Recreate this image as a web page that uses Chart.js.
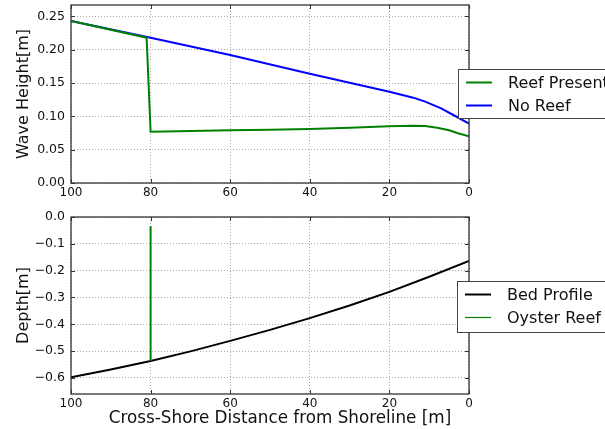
<!DOCTYPE html>
<html>
<head>
<meta charset="utf-8">
<script src="https://cdn.jsdelivr.net/npm/chart.js@4"></script>
<style>
  body { margin: 0; background: #fff; }
  .box { position: absolute; left: 0; width: 605px; }
  #top { top: 0; height: 205px; }
  #bot { top: 205px; height: 224px; }
</style>
</head>
<body>
<div class="box" id="top"><canvas id="chart-wave"></canvas></div>
<div class="box" id="bot"><canvas id="chart-depth"></canvas></div>
<script>
// distance from shoreline [m] and values
const reefX = [100, 81, 80, 70, 60, 50, 40, 30, 20, 14, 11, 8, 5, 3, 0];
const reefH = [0.243, 0.218, 0.077, 0.078, 0.079, 0.080, 0.081, 0.083, 0.085, 0.086, 0.0855, 0.083, 0.079, 0.075, 0.070];
const noReefX = [100, 80, 60, 40, 20, 14, 11, 7, 3, 0];
const noReefH = [0.243, 0.218, 0.192, 0.164, 0.137, 0.128, 0.122, 0.112, 0.099, 0.089];
const bedX = [100, 90, 80, 70, 60, 50, 40, 30, 20, 10, 0];
const bedZ = [-0.598, -0.569, -0.537, -0.501, -0.462, -0.421, -0.377, -0.330, -0.279, -0.223, -0.164];
const oysterX = [80, 80];
const oysterZ = [-0.537, -0.034];

const font = "'DejaVu Sans', sans-serif";
const pts = (xs, ys) => xs.map((x, i) => ({ x: x, y: ys[i] }));

function frame(legend, xTitle) {
  return {
    id: "frame",
    afterDraw(chart) {
      const c = chart.ctx;
      const a = chart.chartArea;
      c.save();
      // inward tick marks on all four sides
      c.strokeStyle = "#333";
      c.lineWidth = 1;
      c.beginPath();
      chart.scales.x.ticks.forEach((t) => {
        const px = Math.round(chart.scales.x.getPixelForValue(t.value)) + 0.5;
        c.moveTo(px, a.bottom); c.lineTo(px, a.bottom - 4);
        c.moveTo(px, a.top); c.lineTo(px, a.top + 4);
      });
      chart.scales.y.ticks.forEach((t) => {
        const py = Math.round(chart.scales.y.getPixelForValue(t.value)) + 0.5;
        c.moveTo(a.left, py); c.lineTo(a.left + 4, py);
        c.moveTo(a.right, py); c.lineTo(a.right - 4, py);
      });
      c.stroke();
      c.lineWidth = 1.3;
      c.strokeRect(a.left, a.top, a.right - a.left, a.bottom - a.top);
      if (xTitle) {
        c.fillStyle = "#111";
        c.font = "16.8px " + font;
        c.textAlign = "center";
        c.textBaseline = "middle";
        c.fillText(xTitle.text, xTitle.x, xTitle.y);
        c.textAlign = "left";
      }
      // legend box sitting over the right edge
      c.fillStyle = "#fff";
      c.fillRect(legend.x, legend.y, 200, legend.h);
      c.strokeStyle = "#444";
      c.lineWidth = 1;
      c.strokeRect(legend.x + 0.5, legend.y + 0.5, 200, legend.h);
      c.font = "16px " + font;
      c.textBaseline = "middle";
      legend.items.forEach((it, i) => {
        const y = legend.y + 13.5 + i * 23;
        c.strokeStyle = it.color;
        c.lineWidth = it.width;
        c.beginPath();
        c.moveTo(legend.x + 8, y);
        c.lineTo(legend.x + 34, y);
        c.stroke();
        c.fillStyle = "#111";
        c.fillText(it.label, legend.x + 50, y + 1);
      });
      c.restore();
    },
  };
}

function makeOptions(o) {
  return {
    responsive: true,
    maintainAspectRatio: false,
    animation: false,
    layout: { padding: { left: 0, right: 136, top: o.top, bottom: 0 } },
    plugins: { legend: { display: false }, tooltip: { enabled: false } },
    elements: { point: { radius: 0 }, line: { tension: 0, borderWidth: 2 } },
    scales: {
      x: {
        type: "linear",
        min: 0,
        max: 100,
        reverse: true,
        afterFit: (s) => { s.height = o.xHeight; },
        ticks: { stepSize: 20, color: "#111", font: { family: font, size: 12 }, padding: 3, maxRotation: 0 },
        grid: { color: "#aaa", drawTicks: false },
        border: { display: false, dash: [1, 2] },
      },
      y: {
        min: o.yMin,
        max: o.yMax,
        afterFit: (s) => { s.width = 71; s.paddingTop = 0; s.paddingBottom = 0; },
        ticks: {
          stepSize: o.step,
          includeBounds: false,
          color: "#111",
          font: { family: font, size: 12.5 },
          padding: 6,
          callback: o.fmt,
        },
        grid: { color: "#aaa", drawTicks: false },
        border: { display: false, dash: [1, 2] },
        title: { display: true, text: o.yTitle, color: "#111", font: { family: font, size: 16 }, padding: { top: 14, bottom: 0 } },
      },
    },
  };
}

new Chart(document.getElementById("chart-wave"), {
  type: "line",
  data: {
    datasets: [
      { label: "Reef Present", data: pts(reefX, reefH), borderColor: "#008000" },
      { label: "No Reef", data: pts(noReefX, noReefH), borderColor: "#0000ff" },
    ],
  },
  options: makeOptions({
    top: 5, xHeight: 22, yMin: 0, yMax: 0.267, step: 0.05, yTitle: "Wave Height[m]",
    fmt: (v) => v.toFixed(2),
  }),
  plugins: [frame({
    x: 458, y: 69, h: 49,
    items: [
      { label: "Reef Present", color: "#008000", width: 2 },
      { label: "No Reef", color: "#0000ff", width: 2 },
    ],
  })],
});

new Chart(document.getElementById("chart-depth"), {
  type: "line",
  data: {
    datasets: [
      { label: "Oyster Reef", data: pts(oysterX, oysterZ), borderColor: "#008000" },
      { label: "Bed Profile", data: pts(bedX, bedZ), borderColor: "#000000" },
    ],
  },
  options: makeOptions({
    top: 12, xHeight: 35, yMin: -0.66, yMax: 0, step: 0.1, yTitle: "Depth[m]",
    fmt: (v) => (Math.abs(v) < 1e-9 ? "0.0" : v.toFixed(1).replace("-", "\u2212")),
  }),
  plugins: [frame({
    x: 457, y: 76, h: 51,
    items: [
      { label: "Bed Profile", color: "#000000", width: 2 },
      { label: "Oyster Reef", color: "#008000", width: 1.2 },
    ],
  }, { text: "Cross-Shore Distance from Shoreline [m]", x: 280, y: 214 })],
});
</script>
</body>
</html>
